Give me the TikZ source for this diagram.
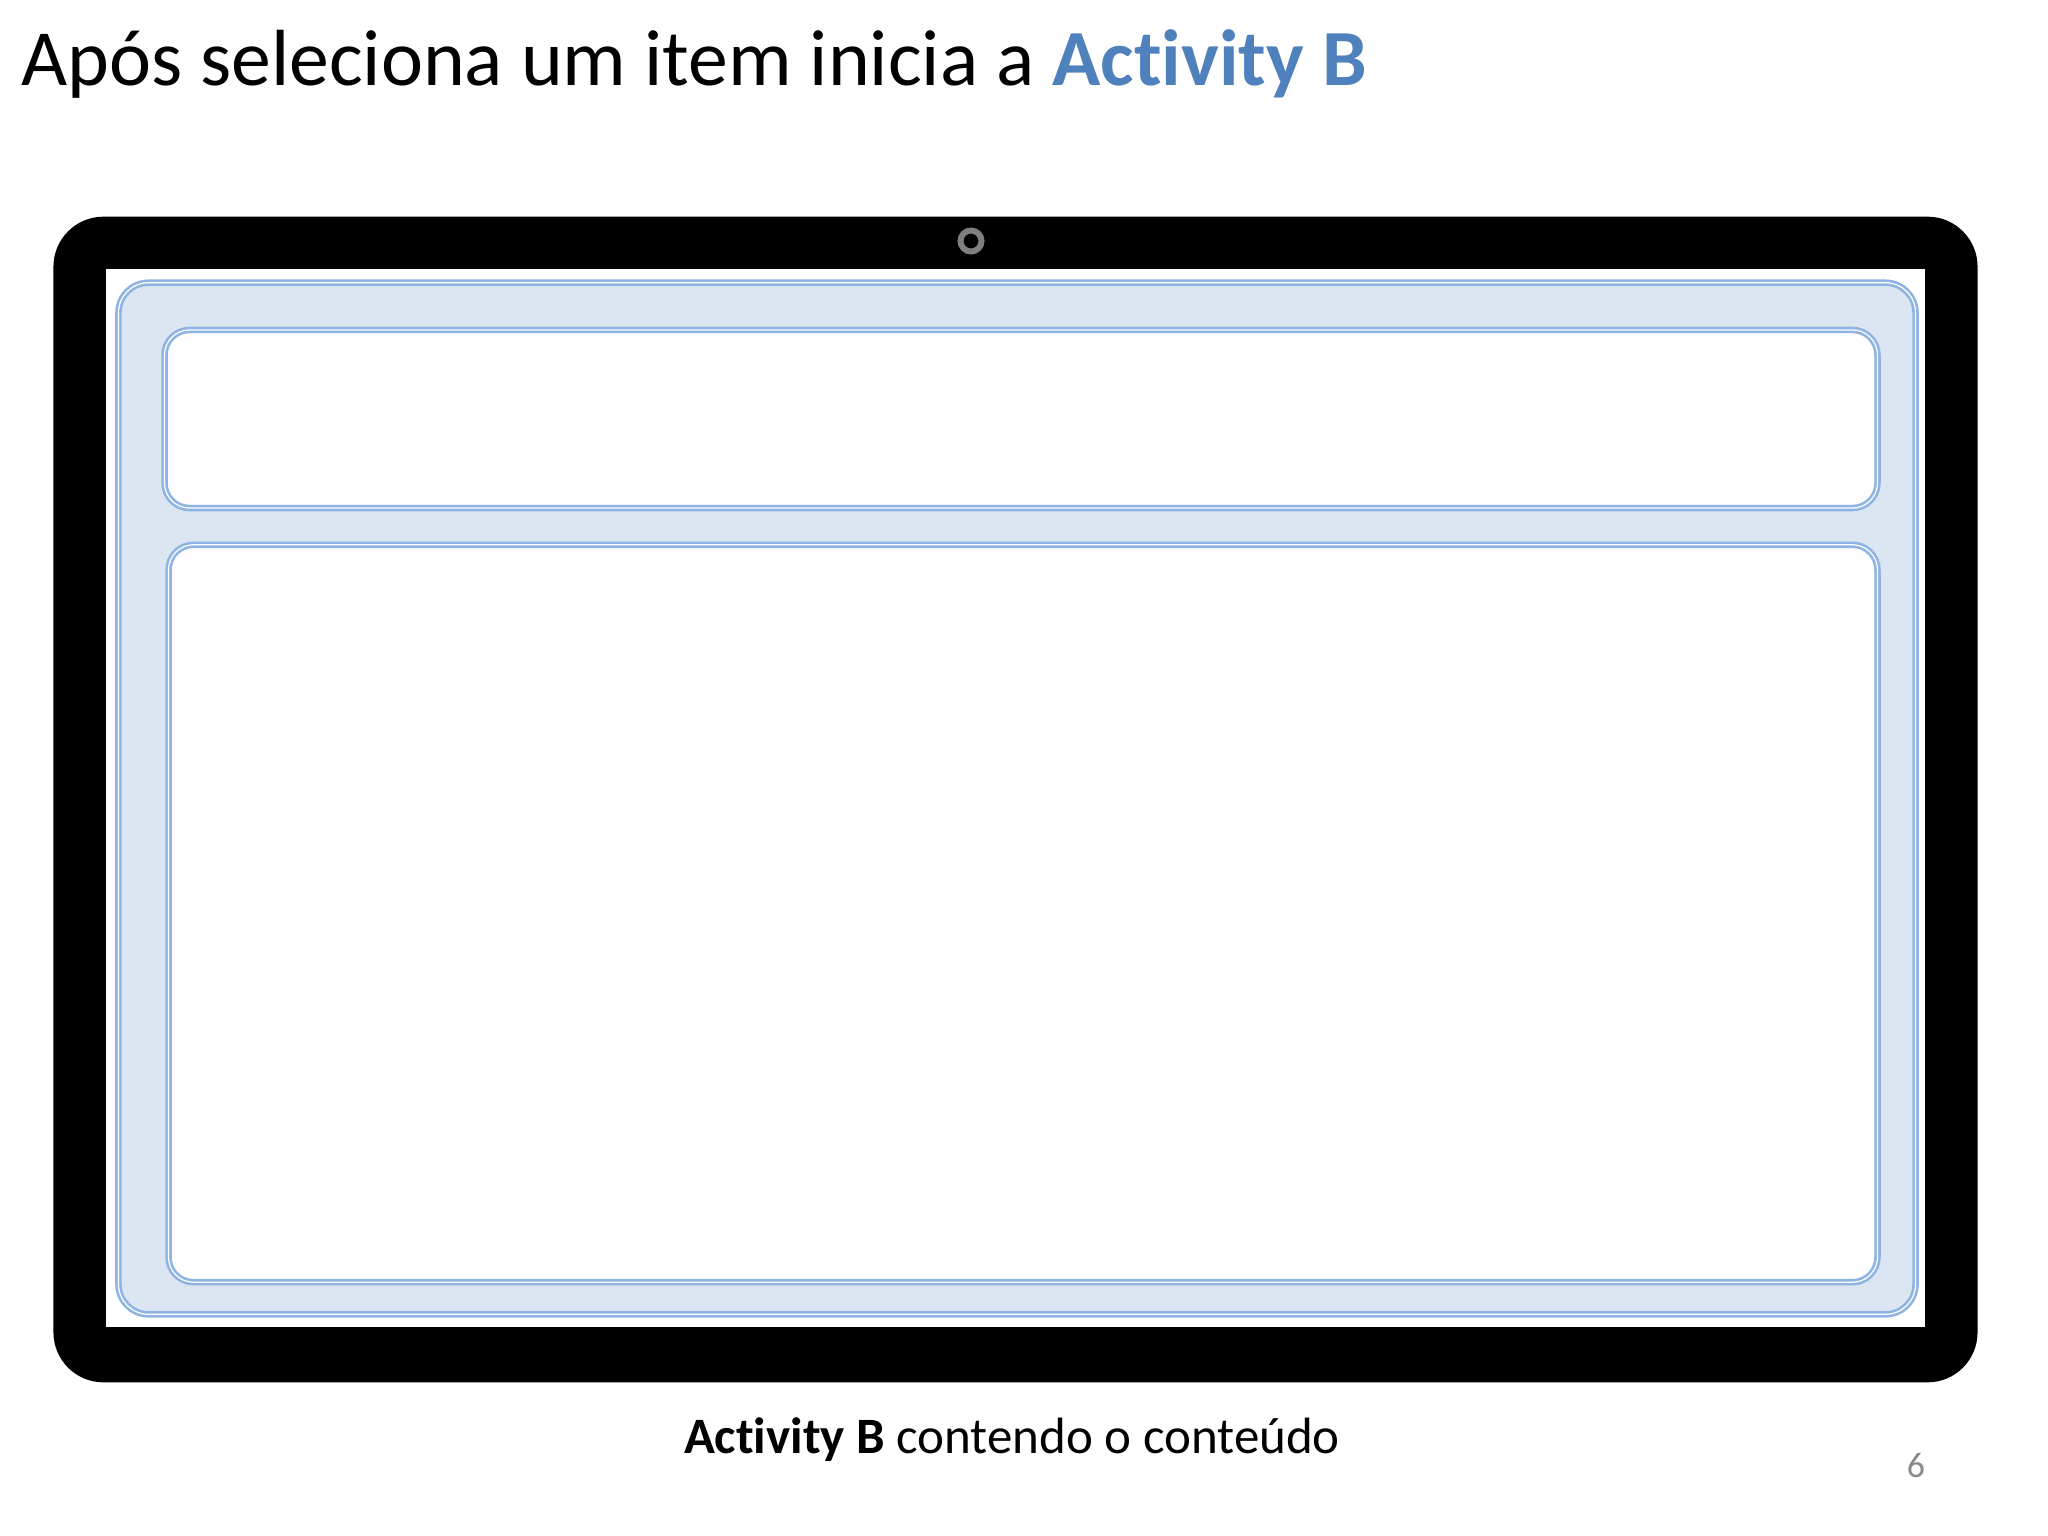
\documentclass[tikz,border=0pt]{standalone}
\usepackage{fontspec}
\setmainfont{Carlito}[Ligatures=NoCommon]
\usetikzlibrary{positioning}
\usepackage{xcolor}

\definecolor{titleblue}{HTML}{4F81BD}
\definecolor{panelfill}{HTML}{DCE6F2}
\definecolor{panelline}{HTML}{8EB4E3}
\definecolor{camgray}{HTML}{7F7F7F}
\definecolor{pagegray}{HTML}{898989}

\begin{document}
\begin{tikzpicture}[x=0.01cm, y=-0.01cm, thick]

			% Define style for boxes
			\tikzstyle{device} = [rectangle, fill=black, inner sep=0pt,
								rounded corners=0.5cm]
			\tikzstyle{display} = [rectangle, fill=white, inner sep=0pt]
			\tikzstyle{panel} = [rectangle, draw=panelline, fill=panelfill,
								line width=0.75pt, double=white, double distance=0.35pt,
								inner sep=0pt, rounded corners=0.3cm]
			\tikzstyle{pane} = [panel, fill=white!99!gray, rounded corners=0.25cm]

			% Page size
			\useasboundingbox[fill=white] (0,0) rectangle (2048,1536);

			% Title
			\node [anchor=base west, inner sep=0pt] (title) at (20,85)
				{\fontsize{22.65pt}{27pt}\selectfont Após seleciona um item inicia a
				\textcolor{titleblue}{\bfseries Activity B}};

			% Place the tablet
			\node [device, minimum width=19.23cm, minimum height=11.65cm] (tablet) at (1015.5,799.5) {};
			\node [display, minimum width=18.17cm, minimum height=10.58cm] (screen) at (1015.5,798) {};
			\node [circle, draw=camgray, line width=1.7pt, minimum size=0.21cm, inner sep=0pt] (camera) at (971,241) {};

			% Activity layout
			\node [panel, minimum width=17.96cm, minimum height=10.31cm] (activity) at (1017,798.5) {};
			\node [pane, minimum width=17.12cm, minimum height=1.78cm] (header) at (1021,419) {};
			\node [pane, minimum width=17.08cm, minimum height=7.37cm] (content) at (1023,913.5) {};

			% Caption
			\node [anchor=base, inner sep=0pt] (caption) at (1012,1453)
				{\fontsize{14.5pt}{17pt}\selectfont \textbf{Activity B} contendo o conteúdo};
			\node [anchor=base, inner sep=0pt, text=pagegray] (page) at (1916,1477)
				{\fontsize{10.2pt}{12pt}\selectfont 6};
		\end{tikzpicture}
\end{document}
